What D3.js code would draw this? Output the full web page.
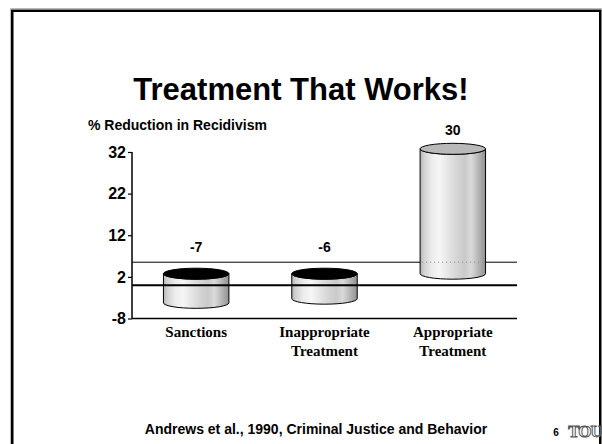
<!DOCTYPE html>
<html>
<head>
<meta charset="utf-8">
<script src="https://cdn.jsdelivr.net/npm/d3@7"></script>
<style>
  html, body { margin: 0; padding: 0; background: #fff; }
  svg { display: block; }
</style>
</head>
<body>
<svg id="chart" width="602" height="444"></svg>
<script>
// ---- data ----
const categories = [["Sanctions"], ["Inappropriate", "Treatment"], ["Appropriate", "Treatment"]];
const values = [-7, -6, 30];
const valueLabels = ["-7", "-6", "30"];
const yTicks = [-8, 2, 12, 22, 32];
const titleText = "Treatment That Works!";
const axisTitle = "% Reduction in Recidivism";
const footerText = "Andrews et al., 1990, Criminal Justice and Behavior";
const pageNumber = "6";
const logoText = "TOU";

// ---- layout ----
const svg = d3.select("#chart");
const plotLeft = 132, plotRight = 517, plotTop = 152, plotBottom = 318.5;
const sans = "'Liberation Sans', Arial, Helvetica, sans-serif";
const serif = "'Liberation Serif', 'Times New Roman', serif";

const y = d3.scaleLinear().domain([-8, 32]).range([plotBottom, plotTop]);
const x = d3.scaleBand().domain(d3.range(values.length)).range([plotLeft, plotRight]).padding(0);
const barW = x.bandwidth() * 0.51;
const ry = 5.5;
const depth = 23;          // floor depth (front edge to back edge)
const dz = -depth / 2;     // cylinders sit in the middle of the floor

// defs: gradient for cylinder bodies
const defs = svg.append("defs");
const grad = defs.append("linearGradient").attr("id", "cyl").attr("x1", "0%").attr("x2", "100%").attr("y1", "0%").attr("y2", "0%");
[
  [0, "#b4b4b4"], [0.06, "#d2d2d2"], [0.18, "#ececec"], [0.3, "#f6f6f6"],
  [0.42, "#e6e6e6"], [0.55, "#d6d6d6"], [0.68, "#cacaca"], [0.78, "#dadada"],
  [0.86, "#c0c0c0"], [0.93, "#a8a8a8"], [1, "#909090"]
].forEach(([o, c]) => grad.append("stop").attr("offset", o).attr("stop-color", c));

// page frame
svg.append("rect").attr("x", 10.5).attr("y", 8.5).attr("width", 600).attr("height", 460)
  .attr("fill", "none").attr("stroke", "#bbb").attr("stroke-width", 1);
svg.append("rect").attr("x", 12.25).attr("y", 10.75).attr("width", 588).attr("height", 460)
  .attr("fill", "none").attr("stroke", "#000").attr("stroke-width", 2.5);

// title
svg.append("text").attr("x", 301).attr("y", 100).attr("text-anchor", "middle")
  .attr("font-family", sans).attr("font-weight", "bold").attr("font-size", 31)
  .text(titleText);

// axis title
svg.append("text").attr("x", 88).attr("y", 130)
  .attr("font-family", sans).attr("font-weight", "bold").attr("font-size", 14)
  .text(axisTitle);

// floor back edge
svg.append("line").attr("x1", plotLeft).attr("x2", plotRight)
  .attr("y1", y(0) - depth).attr("y2", y(0) - depth)
  .attr("stroke", "#000").attr("stroke-width", 1);

// cylinders
const g = svg.append("g");
values.forEach((v, i) => {
  const cx = x(i) + x.bandwidth() / 2;
  const rx = barW / 2;
  const yTop = y(Math.max(v, 0)) + dz;
  const yBot = y(Math.min(v, 0)) + dz;
  const body = `M${cx - rx},${yTop} L${cx - rx},${yBot} A${rx},${ry} 0 0 0 ${cx + rx},${yBot} L${cx + rx},${yTop} A${rx},${ry} 0 0 1 ${cx - rx},${yTop} Z`;
  g.append("path").attr("d", body).attr("fill", "url(#cyl)").attr("stroke", "#000").attr("stroke-width", 1);
  g.append("ellipse").attr("cx", cx).attr("cy", yTop).attr("rx", rx).attr("ry", ry)
    .attr("fill", v < 0 ? "#000" : "#b9b9b9").attr("stroke", "#000").attr("stroke-width", 1);
  const backY = y(0) - depth;
  if (backY > yTop + ry && backY < yBot) {
    g.append("line").attr("x1", cx - rx + 2).attr("x2", cx + rx - 2).attr("y1", backY).attr("y2", backY)
      .attr("stroke", "#888").attr("stroke-width", 1).attr("stroke-dasharray", "1,3");
  }
  const ly = v < 0 ? yTop - ry - 16 : yTop - ry - 8;
  svg.append("text").attr("x", cx).attr("y", ly).attr("text-anchor", "middle")
    .attr("font-family", sans).attr("font-weight", "bold").attr("font-size", 14)
    .text(valueLabels[i]);
});

// zero line (front floor edge)
svg.append("line").attr("x1", plotLeft).attr("x2", plotRight).attr("y1", y(0)).attr("y2", y(0))
  .attr("stroke", "#000").attr("stroke-width", 2);

// baseline at -8
svg.append("line").attr("x1", plotLeft).attr("x2", plotRight).attr("y1", y(-8)).attr("y2", y(-8))
  .attr("stroke", "#000").attr("stroke-width", 1.5);

// y axis
const yAxis = d3.axisLeft(y).tickValues(yTicks).tickSize(4).tickPadding(2).tickFormat(d => String(d));
const ax = svg.append("g").attr("transform", `translate(${plotLeft},0)`).call(yAxis);
ax.select(".domain").attr("stroke-width", 1.5).attr("d", `M0,${plotTop}V${plotBottom}`);
ax.selectAll(".tick line").attr("stroke-width", 1.2);
ax.selectAll(".tick text").attr("font-family", sans).attr("font-weight", "bold").attr("font-size", 16).attr("fill", "#000");

// category labels
categories.forEach((lines, i) => {
  const cx = x(i) + x.bandwidth() / 2;
  const t = svg.append("text").attr("text-anchor", "middle")
    .attr("font-family", serif).attr("font-weight", "bold").attr("font-size", 15);
  lines.forEach((l, k) => t.append("tspan").attr("x", cx).attr("y", 337 + k * 19).text(l));
});

// footer
svg.append("text").attr("x", 316).attr("y", 434).attr("text-anchor", "middle")
  .attr("font-family", sans).attr("font-weight", "bold").attr("font-size", 14)
  .text(footerText);
svg.append("text").attr("x", 556).attr("y", 436).attr("text-anchor", "middle")
  .attr("font-family", sans).attr("font-weight", "bold").attr("font-size", 10)
  .text(pageNumber);
svg.append("text").attr("x", 585).attr("y", 437).attr("text-anchor", "middle")
  .attr("font-family", serif).attr("font-weight", "bold").attr("font-size", 17)
  .attr("fill", "#fff").attr("stroke", "#555").attr("stroke-width", 1).attr("letter-spacing", -1)
  .text(logoText);
</script>
</body>
</html>
